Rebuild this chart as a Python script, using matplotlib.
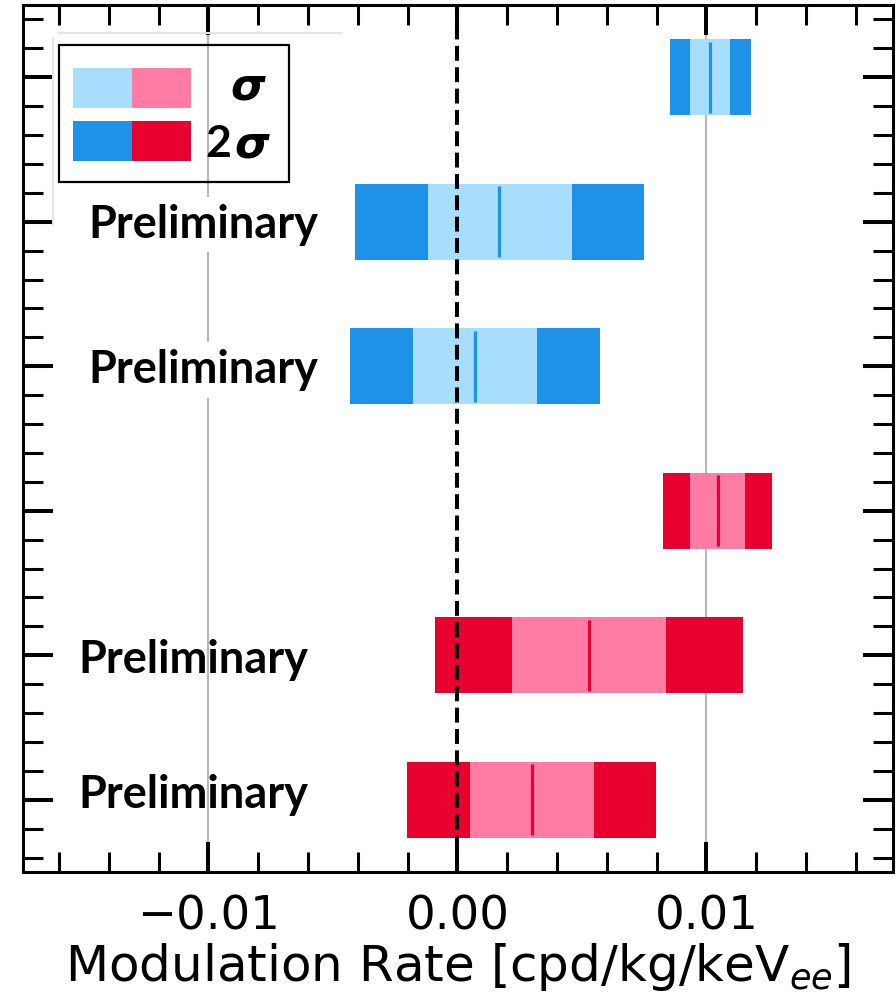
import matplotlib
matplotlib.use('Agg')
import matplotlib.pyplot as plt
from matplotlib.lines import Line2D
from matplotlib.patches import Rectangle
from matplotlib.ticker import MultipleLocator

W, H = 896, 998

# Rows from top (5) to bottom (0)
rows = [5, 4, 3, 2, 1, 0]
groups = ['blue', 'blue', 'blue', 'red', 'red', 'red']
central = [0.01013, 0.00169, 0.00070, 0.01047, 0.00529, 0.00300]
lo_1sigma = [0.00936, -0.00120, -0.00180, 0.00934, 0.00218, 0.00049]
hi_1sigma = [0.01096, 0.00459, 0.00321, 0.01157, 0.00838, 0.00549]
lo_2sigma = [0.00853, -0.00410, -0.00430, 0.00826, -0.00091, -0.00202]
hi_2sigma = [0.01181, 0.00748, 0.00572, 0.01265, 0.01146, 0.00799]

preliminary_rows = [4, 3, 1, 0]
preliminary_shift = [0.11, 0.115, 0.124, 0.06]
xticks = [-0.01, 0.0, 0.01]
xtick_labels = ['\u22120.01', '0.00', '0.01']
legend_labels = ['\u03c3', '2', '\u03c3']

palette = {'blue': ('#A7DEFD', '#1E92E8'), 'red': ('#FF7DA5', '#E8002E')}

fig = plt.figure(figsize=(W / 100, H / 100), dpi=100)
ax = fig.add_axes([23 / W, 1 - 872 / H, (893 - 23) / W, (872 - 5) / H])
ax.set_xlim(-0.01745, 0.0175)
ax.set_ylim(-0.5, 5.5)

# reference lines
for xv in (-0.01, 0.01):
    ax.axvline(xv, color='#b8b8b8', lw=1.6, zorder=0.5)
ax.axvline(0.0, color='black', lw=2.9, ls='--', zorder=6)

bar_h = 0.524
for y, g, c, l1, h1, l2, h2 in zip(rows, groups, central, lo_1sigma, hi_1sigma,
                                     lo_2sigma, hi_2sigma):
    light, dark = palette[g]
    ax.barh(y, h2 - l2, left=l2, height=bar_h, color=dark, zorder=2)
    ax.barh(y, h1 - l1, left=l1, height=bar_h, color=light, zorder=3)
    ax.vlines(c, y - 0.245, y + 0.245, color=dark, lw=2.3, zorder=4)

# "Preliminary" tags
for y, dy in zip(preliminary_rows, preliminary_shift):
    if y >= 3:
        ax.text(-0.01482, y - dy, 'Preliminary', fontsize=32.5, family='Lato',
                weight='bold', ha='left', va='baseline', zorder=5,
                bbox=dict(facecolor='white', edgecolor='none', pad=5))
    else:
        ax.text(-0.01522, y - dy, 'Preliminary', fontsize=32.5, family='Lato',
                weight='bold', ha='left', va='baseline', zorder=1)

# axes styling
ax.xaxis.set_major_locator(MultipleLocator(0.01))
ax.xaxis.set_minor_locator(MultipleLocator(0.002))
ax.yaxis.set_major_locator(MultipleLocator(1))
ax.yaxis.set_minor_locator(MultipleLocator(0.2))
ax.set_xticks(xticks)
ax.set_xticklabels(xtick_labels)
ax.tick_params(which='both', direction='in', top=True, right=True,
               labelleft=False, zorder=7)
ax.tick_params(which='major', length=21.6, width=2.9, labelsize=33.5, pad=16)
ax.tick_params(which='minor', length=14.4, width=2.2)
for s in ax.spines.values():
    s.set_linewidth(2.2)
    s.set_zorder(8)
ax.set_xlabel('Modulation Rate [cpd/kg/keV$_{ee}$]', fontsize=36, labelpad=1)


def fp(x, y):
    return x / W, 1 - y / H


# faint outer frame
fx = [fp(53, 225)[0], fp(53, 38)[0]]
fy = [fp(53, 225)[1], fp(53, 38)[1]]
fig.add_artist(Line2D(fx, fy, color='#e6e6e6', lw=1.5, transform=fig.transFigure))
fig.add_artist(Line2D([fp(58, 33)[0], fp(342, 33)[0]], [fp(58, 33)[1], fp(342, 33)[1]],
                      color='#e6e6e6', lw=1.5, transform=fig.transFigure))

# legend box
x0, y0 = fp(59, 182)
fig.add_artist(Rectangle((x0, y0), 230 / W, 137 / H, facecolor='none', edgecolor='black',
                         lw=1.6, transform=fig.transFigure, zorder=10))
for (top, key) in ((68, 0), (121, 1)):
    for j, g in enumerate(('blue', 'red')):
        col = palette[g][key]
        xa, ya = fp(73 + 59 * j, top + 40)
        fig.add_artist(Rectangle((xa, ya), 59 / W, 40 / H, facecolor=col, edgecolor='none',
                                 transform=fig.transFigure, zorder=10))

sx, sy = fp(265, 100)
fig.text(sx, sy, legend_labels[0], fontsize=32, family='DejaVu Sans', weight='bold',
         style='italic', ha='right', va='baseline', zorder=11)
tx, ty = fp(231, 157)
fig.text(tx, ty, legend_labels[1], fontsize=32, family='Lato', weight='bold',
         ha='right', va='baseline', zorder=11)
sx2, sy2 = fp(234, 157)
fig.text(sx2, sy2, legend_labels[2], fontsize=32, family='DejaVu Sans',
         weight='bold', style='italic', ha='left', va='baseline', zorder=11)

fig.savefig('out.png', dpi=100)
